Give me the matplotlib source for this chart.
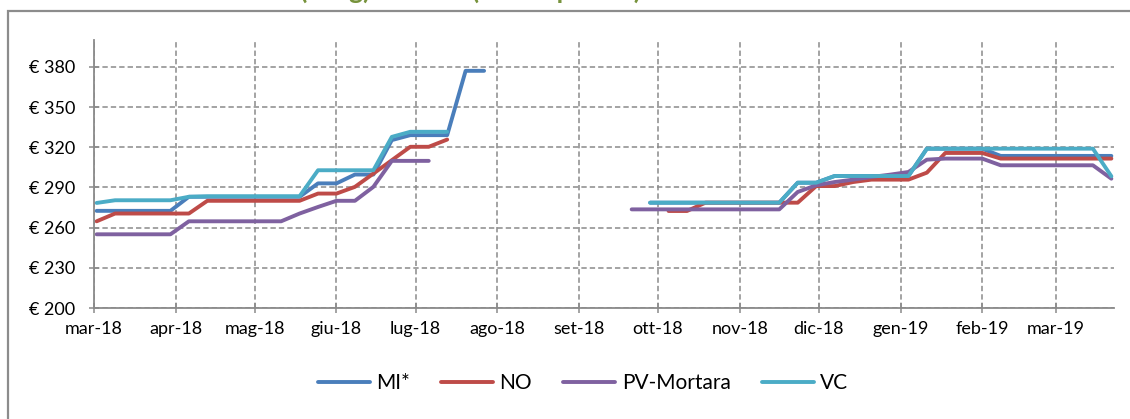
import matplotlib.pyplot as plt
from matplotlib.patches import Rectangle
import numpy as np
import pandas as pd

nan = np.nan

# weekly prices, one point per week from early March 2018
weeks = pd.date_range("2018-03-02", periods=56, freq="7D")

mi = ([272.5] * 5 + [283] * 7 + [293, 293, 299.6, 299.6, 325.3, 329, 329, 329, 377, 377]
      + [nan] * 8 + [278.6] * 8 + [293.5] * 2 + [298.5] * 5 + [318.9] * 4 + [313.5] * 7)
no = ([264.7] + [270.5] * 5 + [280] * 6 + [285.4, 285.4, 290.4, 300.3, 310.3, 320.3, 320.3, 325.7]
      + [nan] * 11 + [272.4] * 2 + [278.6] * 6 + [291, 291, 294, 295.8, 295.8, 295.8, 301]
      + [315.7] * 3 + [311.5] * 7)
pv = ([255] * 5 + [264.7] * 6 + [270.5, 275.4, 280, 280, 290.4] + [309.8] * 3
      + [nan] * 10 + [273.6] * 9 + [286.6, 291.6, 294, 295.8, 297.8, 299.5, 301.5, 310.7]
      + [311.5] * 3 + [306.5] * 6 + [296.5])
vc = ([278.4] + [280.4] * 4 + [283] + [283.4] * 6 + [302.8] * 4 + [327.7] + [331.5] * 3
      + [nan] * 10 + [278.6] * 8 + [293.5] * 2 + [298.5] * 5 + [318.9] * 10 + [298.3])

series = ["MI*", "NO", "PV-Mortara", "VC"]
colors = ["#4a7ebb", "#be4b48", "#7f61a0", "#4bacc6"]

yticks = [200, 230, 260, 290, 320, 350, 380]
ylabels = ["€ %d" % v for v in yticks]

months = pd.date_range("2018-03-01", "2019-03-01", freq="MS")
mnames = ["mar", "apr", "mag", "giu", "lug", "ago", "set", "ott", "nov", "dic", "gen", "feb", "mar"]
xlabels = ["%s-%s" % (m, d.strftime("%y")) for m, d in zip(mnames, months)]

plt.rcParams['font.family'] = ['Lato', 'DejaVu Sans']

fig = plt.figure(figsize=(11.3, 4.19), dpi=100)

# outer chart frame, partly cut by the image edges
fig.patches.append(Rectangle((8 / 1130, -0.2), 1.2, 0.2 + 1 - 11 / 419, transform=fig.transFigure,
                             fill=False, edgecolor="#8c8c8c", linewidth=1.6))

# title sits above the image, only the descenders show
title_y = 1 + 1.5 / 419
fig.text(296 / 1130, title_y, "Prezzo risone", ha="right", va="baseline",
         color="#77933c", fontsize=19, fontweight="bold")
fig.text(300 / 1130, title_y, "(€/kg) mercati (media pesata)", ha="left", va="baseline",
         color="#77933c", fontsize=19, fontweight="bold")

ax = fig.add_axes([94 / 1130, 1 - 308 / 419, (1114 - 94) / 1130, (308 - 40) / 419])

for vals, name, c in zip([mi, no, pv, vc], series, colors):
    ax.plot(weeks, vals, color=c, linewidth=2.8, label=name, solid_capstyle="round")

ax.set_ylim(200, 400)
ax.set_xlim(pd.Timestamp("2018-03-01"), pd.Timestamp("2019-03-23"))
ax.set_yticks(yticks)
ax.set_yticklabels(ylabels)
ax.set_xticks(months)
ax.set_xticklabels(xlabels)

ax.grid(True, color="#8a8a8a", linestyle=(0, (3.5, 2)), linewidth=1.1)
ax.set_axisbelow(True)
for s in ["top", "right"]:
    ax.spines[s].set_visible(False)
for s in ["left", "bottom"]:
    ax.spines[s].set_color("#8a8a8a")
    ax.spines[s].set_linewidth(1.3)

ax.tick_params(axis="both", direction="inout", length=7, width=1.1, color="#8a8a8a",
               labelsize=13, labelcolor="black")
ax.tick_params(axis="y", pad=10)
ax.tick_params(axis="x", pad=6)

fig.legend(loc="center", bbox_to_anchor=(583 / 1130, 1 - 383 / 419), ncol=4, frameon=False,
           fontsize=15, handlelength=2.5, handletextpad=0.3, columnspacing=1.5)

fig.savefig("out.png", dpi=100)
